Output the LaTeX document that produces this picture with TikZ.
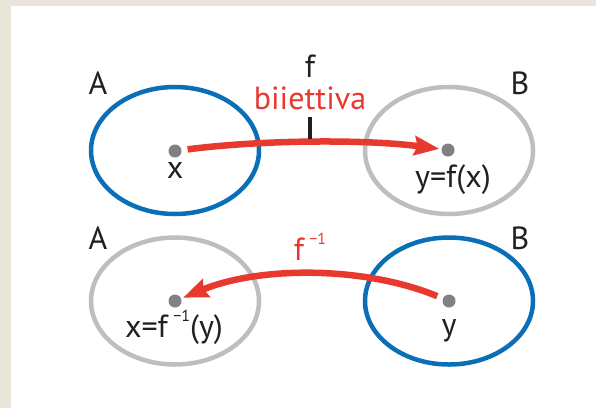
\documentclass[tikz,border=0pt]{standalone}
\usepackage{fontspec}
\setmainfont{PT Sans}
\usetikzlibrary{arrows.meta, shapes.geometric}
\definecolor{setblue}{HTML}{0A6FB7}
\definecolor{setgray}{HTML}{BDBEC0}
\definecolor{mapred}{HTML}{E8392F}
\definecolor{ptgray}{HTML}{808184}
\definecolor{framebg}{HTML}{E9E6D9}
\definecolor{textmain}{HTML}{231F20}
\newcommand{\invsup}{\,\raisebox{0.5em}{\fontsize{16}{16}\selectfont −1}}

\begin{document}
\begin{tikzpicture}[x=1pt, y=-1pt,
    >={Stealth[length=25pt, width=19pt, inset=3pt]},
    setbox/.style={ellipse, draw, line width=4.5pt, inner sep=0pt, minimum width=168pt, minimum height=127pt},
    ptdot/.style={circle, fill=ptgray, inner sep=0pt, minimum size=13pt},
    lbl/.style={font=\fontsize{32}{36}\selectfont, text=textmain, inner sep=0pt, anchor=base},
    redlbl/.style={lbl, text=mapred},
    mapline/.style={->, draw=mapred, line width=6.5pt},
    tickmk/.style={draw=textmain, line width=3.5pt}]
  % frame
  \useasboundingbox (0,0) rectangle (596,408);
  \fill[framebg] (0,0) rectangle (596,408);
  \fill[white] (11,6) rectangle (596,408);
  % the four sets
  \node[setbox, draw=setblue] (setA1) at (175,150.5) {};
  \node[setbox, draw=setgray] (setB1) at (449,150.5) {};
  \node[setbox, draw=setgray] (setA2) at (175,301) {};
  \node[setbox, draw=setblue] (setB2) at (449,301) {};
  % points
  \node[ptdot] (x1) at (175,151) {};
  \node[ptdot] (y1) at (448,150) {};
  \node[ptdot] (x2) at (175,301) {};
  \node[ptdot] (y2) at (449,301) {};
  % labels
  \foreach \n/\x/\y/\t in {la1/98/94/A, lb1/520/94/B, la2/98/249/A, lb2/520/249/B,
      lx1/175/178/x, ly1/453/187/{y=f(x)}, lx2/174/337/{x=f\invsup(y)}, ly2/449/335/y, lf/310/77/f} {
    \node[lbl] (\n) at (\x,\y) {\t};
  }
  \node[redlbl] (lbij) at (310,109) {biiettiva};
  \node[redlbl] (lfinv) at (310,260) {f\invsup};
  % maps
  \draw[mapline, shorten <=6pt, shorten >=2pt] (x1) .. controls +(85,-11) and +(-85,-11) .. (y1);
  \draw[mapline, shorten <=6pt, shorten >=2pt] (y2) .. controls +(-85,-35) and +(85,-35) .. (x2);
  \coordinate (tk) at (310,117);
  \draw[tickmk] (tk) -- ++(0,22);
\end{tikzpicture}
\end{document}
